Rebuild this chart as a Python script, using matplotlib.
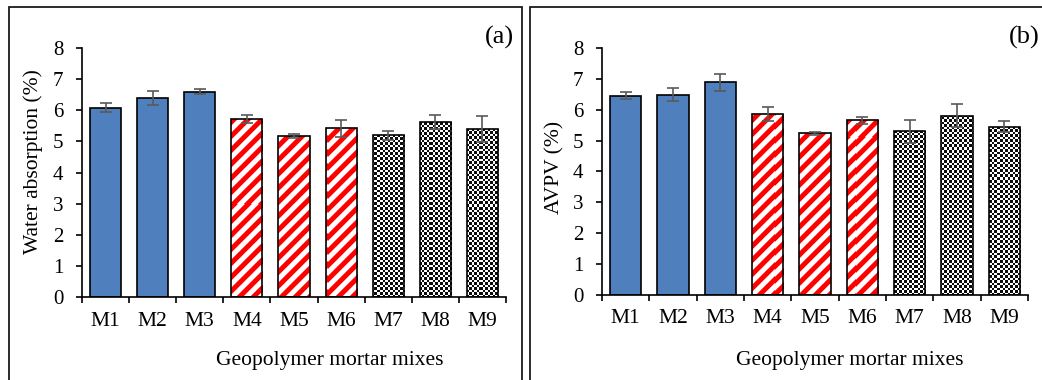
import numpy as np
import matplotlib
matplotlib.use("Agg")
import matplotlib.pyplot as plt
from matplotlib.patches import Rectangle

# ---------------- data ----------------
mixes = ["M1", "M2", "M3", "M4", "M5", "M6", "M7", "M8", "M9"]
water_absorption = [6.08, 6.40, 6.59, 5.72, 5.17, 5.42, 5.20, 5.62, 5.40]
water_absorption_err = [0.15, 0.23, 0.08, 0.12, 0.06, 0.28, 0.14, 0.22, 0.43]
avpv = [6.45, 6.49, 6.89, 5.86, 5.24, 5.65, 5.30, 5.81, 5.45]
avpv_err = [0.12, 0.20, 0.28, 0.22, 0.05, 0.10, 0.38, 0.37, 0.17]
fill_style = ["solid", "solid", "solid", "stripe", "stripe", "stripe",
              "checker", "checker", "checker"]
y_ticks = [0, 1, 2, 3, 4, 5, 6, 7, 8]
xlabel_text = "Geopolymer mortar mixes"

plt.rcParams["font.family"] = ["Liberation Serif", "DejaVu Serif"]

W_PX, H_PX = 1042, 380
fig = plt.figure(figsize=(W_PX / 100, H_PX / 100), dpi=100)

BLUE = "#4F7FBC"


def supersample(fn, w, h, ss=4):
    yy, xx = np.mgrid[0:h * ss, 0:w * ss]
    xx = (xx + 0.5) / ss
    yy = (yy + 0.5) / ss
    a = fn(xx, yy).astype(float)
    a = a.reshape(h, ss, w, ss).mean(axis=(1, 3))
    return a


def stripe_tex(w, h, period=14.0):
    a = supersample(lambda x, y: ((x - y) % period) < period * 0.5, w, h)
    rgb = np.ones((h, w, 3))
    rgb[..., 1] = 1 - a
    rgb[..., 2] = 1 - a
    return rgb


def checker_tex(w, h, cell=2.5):
    a = supersample(lambda x, y: ((np.floor(x / cell) + np.floor(y / cell)) % 2) == 0, w, h, ss=1)
    rgb = np.repeat((1 - 0.95 * a)[..., None], 3, axis=2)
    return rgb


def panel(rect_px, values, errs, ylabel, ylabel_pos, tag, tag_pos):
    x0, y_top, x1, y_bot = rect_px
    ax = fig.add_axes([x0 / W_PX, 1 - y_bot / H_PX, (x1 - x0) / W_PX, (y_bot - y_top) / H_PX])
    pos = np.arange(len(mixes))
    ax.set_xlim(-0.5, len(mixes) - 0.5)
    ax.set_ylim(0, 8)
    w_px = int(round(x1 - x0))
    h_px = int(round(y_bot - y_top))
    textures = {"stripe": stripe_tex(w_px, h_px), "checker": checker_tex(w_px, h_px)}
    for i, (v, st) in enumerate(zip(values, fill_style)):
        fc = BLUE if st == "solid" else "white"
        b = ax.bar(pos[i], v, width=0.66, color=fc, edgecolor="none", zorder=1)[0]
        if st in textures:
            im = ax.imshow(textures[st], extent=[-0.5, len(mixes) - 0.5, 0, 8],
                           origin="lower", aspect="auto", interpolation="nearest", zorder=2)
            im.set_clip_path(b)
        ax.bar(pos[i], v, width=0.66, fill=False, edgecolor="black", linewidth=1.2, zorder=3)
    ax.errorbar(pos, values, yerr=errs, fmt="none", ecolor="#595959", elinewidth=1.2,
                capsize=4, capthick=1.2, zorder=4)
    ax.set_xlim(-0.5, len(mixes) - 0.5)
    ax.set_ylim(0, 8)
    for s in ["top", "right"]:
        ax.spines[s].set_visible(False)
    for s in ["left", "bottom"]:
        ax.spines[s].set_linewidth(1.2)
    ax.set_yticks(y_ticks)
    ax.set_yticklabels([str(t) for t in y_ticks])
    ax.set_xticks(np.arange(len(mixes) + 1) - 0.5)
    ax.set_xticklabels([])
    ax.set_xticks(pos, minor=True)
    ax.set_xticklabels(mixes, minor=True)
    ax.tick_params(axis="y", direction="out", length=4.5, width=1.2, pad=9, labelsize=15)
    ax.tick_params(axis="x", which="major", direction="out", length=4.5, width=1.2)
    ax.tick_params(axis="x", which="minor", length=0, pad=10.5, labelsize=15.5)
    ax.set_facecolor("none")
    fig.text(ylabel_pos[0] / W_PX, 1 - ylabel_pos[1] / H_PX, ylabel, rotation=90,
             ha="center", va="center", fontsize=15.5)
    fig.text(tag_pos[0] / W_PX, 1 - tag_pos[1] / H_PX, tag, ha="center", va="center",
             fontsize=19)
    fig.text((x0 + 248) / W_PX, 1 - 360 / H_PX, xlabel_text, ha="center", va="center",
             fontsize=15.5)
    return ax


panel((82, 48, 506, 297), water_absorption, water_absorption_err,
      "Water absorption (%)", (33, 162), "(a)", (499, 37))
panel((602, 48, 1028, 294.7), avpv, avpv_err,
      "AVPV (%)", (555, 167), "(b)", (1024, 37))

# panel frames
fig.add_artist(Rectangle((9 / W_PX, -0.05), (522 - 9) / W_PX, 1.05 - 7 / H_PX,
                         transform=fig.transFigure, fill=False, linewidth=1.3, edgecolor="#1a1a1a"))
fig.add_artist(Rectangle((530 / W_PX, -0.05), (1060 - 530) / W_PX, 1.05 - 7 / H_PX,
                         transform=fig.transFigure, fill=False, linewidth=1.3, edgecolor="#1a1a1a"))

fig.savefig("out.png", dpi=100)
